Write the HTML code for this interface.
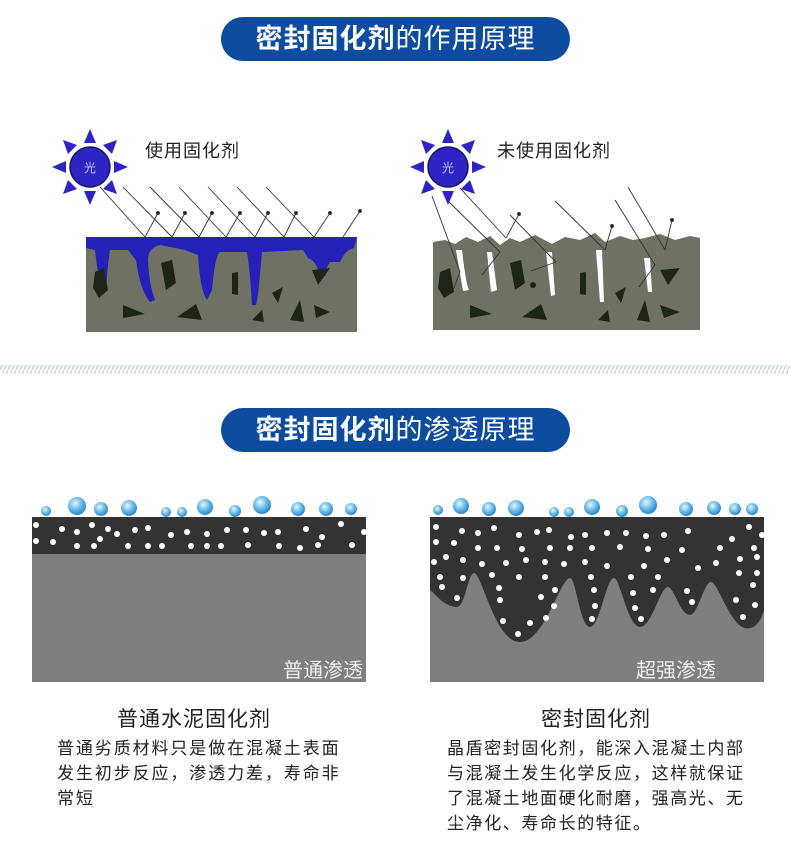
<!DOCTYPE html>
<html><head><meta charset="utf-8"><style>
html,body{margin:0;padding:0;background:#fff;}
body{width:790px;height:844px;position:relative;overflow:hidden;font-family:"Liberation Sans","Noto Sans CJK SC",sans-serif;}
.pill{position:absolute;left:221px;width:349px;height:44px;border-radius:22px;background:#0b4c9f;color:#fff;font-size:27px;line-height:44px;text-align:center;letter-spacing:1px;}
.pill b{font-weight:bold}
.t{position:absolute;color:#222;white-space:nowrap;}
.h{font-size:21px;}
.p{font-size:17px;letter-spacing:1.9px;line-height:25px;color:#222;}
svg{position:absolute;left:0;top:0}
</style></head><body>
<svg width="790" height="844" xmlns="http://www.w3.org/2000/svg">
<defs>
<pattern id="st" width="4" height="10" patternUnits="userSpaceOnUse"><rect width="4" height="10" fill="#fff"/><line x1="0" y1="10" x2="4" y2="0" stroke="#c9d2e6" stroke-width="1.4"/></pattern>
<g id="sun">
<polygon points="0,-38 -6,-24 6,-24" /><polygon points="0,38 -6,24 6,24"/>
<polygon points="-38,0 -24,-6 -24,6"/><polygon points="38,0 24,-6 24,6"/>
<polygon points="-27,-27 -22,-13 -13,-22"/><polygon points="27,-27 22,-13 13,-22"/>
<polygon points="-27,27 -22,13 -13,22"/><polygon points="27,27 22,13 13,22"/>
<circle r="20" stroke="#1a1460" stroke-width="1.5"/>
</g>
<radialGradient id="drop" cx="0.4" cy="0.35" r="0.7"><stop offset="0" stop-color="#e8f6ff"/><stop offset="0.5" stop-color="#6bbde8"/><stop offset="1" stop-color="#1f7fc4"/></radialGradient>
</defs>
<rect x="0" y="365" width="790" height="9" fill="url(#st)"/>

<!-- top left diagram -->
<rect x="86" y="237" width="271" height="95" fill="#6e7163"/>
<path d="M86,237 H357 L354,248 Q345,250 340,262 L330,262 Q325,270 326,275 L320,278 Q318,262 308,258 L303,250 L262,252 Q258,300 256,305 L252,305 Q250,270 247,252 L220,252 Q215,255 212,290 L207,300 Q200,290 198,255 L185,250 L170,247 L160,245 Q148,248 148,260 Q149,285 155,300 L150,302 Q140,290 136,260 L128,250 L110,250 Q107,270 106,290 L102,292 Q97,270 95,250 L86,248 Z" fill="#2420b8"/>
<g fill="#1d2418"><polygon points="95,272 104,268 108,290 99,298 93,288"/><polygon points="161,263 172,260 176,283 166,290"/><polygon points="123,305 145,314 123,318"/><polygon points="177,317 196,304 202,320"/><polygon points="232,273 238,272 238,295 232,294"/><polygon points="272,293 283,287 278,303"/><polygon points="290,320 300,300 304,322"/><polygon points="312,270 330,268 318,285"/><polygon points="314,305 330,312 316,318"/><polygon points="252,320 262,310 264,322"/></g>
<g stroke="#333" stroke-width="0.9" fill="#222">
<line x1="100" y1="187" x2="145" y2="237"/><line x1="145" y1="237" x2="158" y2="213"/>
<line x1="123" y1="187" x2="172" y2="237"/><line x1="172" y1="237" x2="185" y2="213"/>
<line x1="150" y1="187" x2="199" y2="237"/><line x1="199" y1="237" x2="212" y2="213"/>
<line x1="179" y1="187" x2="226" y2="237"/><line x1="226" y1="237" x2="240" y2="213"/>
<line x1="208" y1="187" x2="255" y2="237"/><line x1="255" y1="237" x2="268" y2="213"/>
<line x1="237" y1="187" x2="284" y2="237"/><line x1="284" y1="237" x2="296" y2="213"/>
<line x1="266" y1="187" x2="314" y2="237"/><line x1="314" y1="237" x2="330" y2="213"/>
<line x1="343" y1="237" x2="360" y2="211"/>
<circle cx="158" cy="213" r="1.5"/><circle cx="185" cy="213" r="1.5"/><circle cx="212" cy="213" r="1.5"/><circle cx="240" cy="213" r="1.5"/><circle cx="268" cy="213" r="1.5"/><circle cx="296" cy="213" r="1.5"/><circle cx="330" cy="213" r="1.5"/><circle cx="360" cy="211" r="1.5"/>
</g>
<g fill="#2e24c4" transform="translate(90,167)"><use href="#sun"/></g>
<text x="90" y="172" fill="#c8c4ff" font-size="12" text-anchor="middle" font-family="Noto Sans CJK SC">光</text>

<!-- top right diagram -->
<path d="M433,242 L445,240 L455,244 L466,237 L478,242 L490,236 L500,245 L510,238 L520,242 L535,235 L552,244 L565,237 L580,240 L595,233 L605,242 L620,236 L633,240 L645,238 L660,234 L675,240 L690,236 L700,238 V330 H433 Z" fill="#6e7163"/>
<g fill="#ffffff"><path d="M456,250 L462,250 Q466,285 469,290 L463,291 Z"/><path d="M487,252 L492,252 L497,290 L491,292 Z"/><path d="M546,252 L552,252 L555,295 L551,296 Z"/><path d="M596,250 L602,250 L604,302 L600,302 Z"/><path d="M644,258 L650,258 L652,292 L648,292 Z"/></g>
<g fill="#1d2418"><polygon points="440,272 450,268 454,292 444,298 438,288"/><polygon points="510,263 521,260 525,283 515,290"/><polygon points="470,305 492,314 470,318"/><polygon points="522,317 541,304 547,320"/><polygon points="580,273 586,272 586,295 580,294"/><polygon points="615,293 626,287 621,303"/><polygon points="637,320 645,300 650,322"/><polygon points="660,270 680,268 668,285"/><polygon points="660,305 680,312 664,318"/><polygon points="598,320 608,310 610,322"/><circle cx="533" cy="285" r="3"/></g>
<g stroke="#333" stroke-width="0.9" fill="#222">
<line x1="432" y1="196" x2="460" y2="272"/><line x1="460" y1="272" x2="453" y2="290"/>
<line x1="449" y1="202" x2="500" y2="252"/><line x1="500" y1="252" x2="482" y2="275"/>
<line x1="460" y1="188" x2="506" y2="238"/><line x1="506" y1="238" x2="519" y2="214"/>
<line x1="510" y1="215" x2="556" y2="262"/><line x1="556" y1="262" x2="531" y2="271"/>
<line x1="555" y1="201" x2="605" y2="250"/><line x1="605" y1="250" x2="612" y2="226"/>
<line x1="615" y1="200" x2="655" y2="265"/><line x1="655" y1="265" x2="639" y2="287"/>
<line x1="628" y1="187" x2="665" y2="250"/><line x1="665" y1="250" x2="672" y2="220"/>
<circle cx="519" cy="214" r="1.5"/><circle cx="612" cy="226" r="1.5"/><circle cx="672" cy="220" r="1.5"/>
</g>
<g fill="#2e24c4" transform="translate(448,167)"><use href="#sun"/></g>
<text x="448" y="172" fill="#c8c4ff" font-size="12" text-anchor="middle" font-family="Noto Sans CJK SC">光</text>

<text x="145" y="157" font-size="18" fill="#222" font-family="Noto Sans CJK SC" letter-spacing="1">使用固化剂</text>
<text x="497" y="157" font-size="18" fill="#222" font-family="Noto Sans CJK SC" letter-spacing="1">未使用固化剂</text>

<!-- bottom left -->
<rect x="32" y="517" width="334" height="37" fill="#333"/>
<rect x="32" y="554" width="334" height="128" fill="#7f7f7f"/>
<g fill="#fff">
<circle cx="36" cy="525" r="3"/><circle cx="62" cy="529" r="3"/><circle cx="77" cy="532" r="3"/><circle cx="92" cy="525" r="3"/><circle cx="108" cy="529" r="3"/><circle cx="117" cy="534" r="3"/><circle cx="135" cy="530" r="3"/><circle cx="148" cy="528" r="3"/><circle cx="171" cy="535" r="3"/><circle cx="187" cy="532" r="3"/><circle cx="207" cy="534" r="3"/><circle cx="227" cy="530" r="3"/><circle cx="246" cy="530" r="3"/><circle cx="264" cy="533" r="3"/><circle cx="278" cy="532" r="3"/><circle cx="306" cy="529" r="3"/><circle cx="341" cy="524" r="3"/><circle cx="364" cy="532" r="3"/><circle cx="322" cy="537" r="3"/>
<circle cx="36" cy="541" r="3"/><circle cx="53" cy="542" r="3"/><circle cx="77" cy="546" r="3"/><circle cx="94" cy="546" r="3"/><circle cx="100" cy="539" r="3"/><circle cx="128" cy="546" r="3"/><circle cx="148" cy="546" r="3"/><circle cx="162" cy="546" r="3"/><circle cx="191" cy="546" r="3"/><circle cx="207" cy="546" r="3"/><circle cx="221" cy="546" r="3"/><circle cx="248" cy="545" r="3"/><circle cx="279" cy="546" r="3"/><circle cx="300" cy="548" r="3"/><circle cx="318" cy="545" r="3"/><circle cx="352" cy="545" r="3"/>
</g>
<!-- bottom right -->
<rect x="430" y="517" width="334" height="165" fill="#7f7f7f"/>
<path d="M430,517 H764 V610 C760,625 752,630 745,628 C730,625 718,582 711,582 C704,582 698,615 690,615 C680,615 674,587 668,587 C660,587 652,627 640,627 C628,627 620,578 614,578 C606,578 600,627 590,627 C580,627 576,578 570,578 C560,578 545,642 520,642 C495,642 482,573 474,573 C468,573 465,607 457,607 C445,607 436,595 430,590 Z" fill="#333"/>
<g fill="#fff">
<circle cx="436" cy="527" r="3"/><circle cx="462" cy="531" r="3"/><circle cx="478" cy="533" r="3"/><circle cx="494" cy="528" r="3"/><circle cx="519" cy="535" r="3"/><circle cx="537" cy="532" r="3"/><circle cx="549" cy="530" r="3"/><circle cx="571" cy="537" r="3"/><circle cx="585" cy="535" r="3"/><circle cx="607" cy="533" r="3"/><circle cx="626" cy="533" r="3"/><circle cx="646" cy="536" r="3"/><circle cx="664" cy="535" r="3"/><circle cx="688" cy="531" r="3"/><circle cx="749" cy="527" r="3"/><circle cx="762" cy="535" r="3"/><circle cx="732" cy="539" r="3"/>
<circle cx="436" cy="542" r="3"/><circle cx="454" cy="543" r="3"/><circle cx="478" cy="548" r="3"/><circle cx="497" cy="548" r="3"/><circle cx="522" cy="549" r="3"/><circle cx="550" cy="548" r="3"/><circle cx="570" cy="548" r="3"/><circle cx="592" cy="548" r="3"/><circle cx="620" cy="547" r="3"/><circle cx="648" cy="549" r="3"/><circle cx="682" cy="550" r="3"/><circle cx="720" cy="548" r="3"/><circle cx="754" cy="548" r="3"/>
<circle cx="446" cy="557" r="3"/><circle cx="434" cy="562" r="3"/><circle cx="463" cy="560" r="3"/><circle cx="482" cy="564" r="3"/><circle cx="506" cy="563" r="3"/><circle cx="526" cy="560" r="3"/><circle cx="545" cy="562" r="3"/><circle cx="564" cy="564" r="3"/><circle cx="585" cy="562" r="3"/><circle cx="607" cy="566" r="3"/><circle cx="644" cy="566" r="3"/><circle cx="667" cy="560" r="3"/><circle cx="698" cy="568" r="3"/><circle cx="716" cy="563" r="3"/><circle cx="740" cy="559" r="3"/><circle cx="757" cy="557" r="3"/>
<circle cx="440" cy="577" r="3"/><circle cx="463" cy="578" r="3"/><circle cx="492" cy="575" r="3"/><circle cx="519" cy="577" r="3"/><circle cx="545" cy="577" r="3"/><circle cx="591" cy="577" r="3"/><circle cx="631" cy="577" r="3"/><circle cx="658" cy="577" r="3"/><circle cx="739" cy="573" r="3"/><circle cx="757" cy="573" r="3"/>
<circle cx="442" cy="587" r="3"/><circle cx="499" cy="588" r="3"/><circle cx="555" cy="590" r="3"/><circle cx="594" cy="590" r="3"/><circle cx="633" cy="593" r="3"/><circle cx="653" cy="590" r="3"/><circle cx="687" cy="591" r="3"/><circle cx="753" cy="585" r="3"/>
<circle cx="457" cy="598" r="3"/><circle cx="500" cy="600" r="3"/><circle cx="541" cy="597" r="3"/><circle cx="554" cy="606" r="3"/><circle cx="595" cy="606" r="3"/><circle cx="635" cy="608" r="3"/><circle cx="692" cy="602" r="3"/><circle cx="736" cy="600" r="3"/><circle cx="755" cy="605" r="3"/>
<circle cx="503" cy="621" r="3"/><circle cx="530" cy="623" r="3"/><circle cx="546" cy="618" r="3"/><circle cx="518" cy="634" r="3"/><circle cx="743" cy="617" r="3"/><circle cx="592" cy="619" r="3"/><circle cx="641" cy="619" r="3"/>
</g>
<!-- droplets -->
<g fill="url(#drop)">
<circle cx="46" cy="511" r="5"/><circle cx="77" cy="506" r="9"/><circle cx="101" cy="509" r="7"/><circle cx="129" cy="508" r="8"/><circle cx="166" cy="512" r="5"/><circle cx="182" cy="512" r="5"/><circle cx="205" cy="507" r="8"/><circle cx="235" cy="511" r="6"/><circle cx="262" cy="505" r="9"/><circle cx="298" cy="509" r="7"/><circle cx="326" cy="509" r="7"/><circle cx="351" cy="509" r="6"/>
<circle cx="438" cy="510" r="5"/><circle cx="461" cy="506" r="8"/><circle cx="489" cy="509" r="7"/><circle cx="516" cy="508" r="8"/><circle cx="554" cy="512" r="5"/><circle cx="569" cy="512" r="5"/><circle cx="592" cy="507" r="8"/><circle cx="622" cy="511" r="6"/><circle cx="648" cy="505" r="9"/><circle cx="686" cy="509" r="7"/><circle cx="714" cy="508" r="7"/><circle cx="735" cy="509" r="6"/><circle cx="752" cy="509" r="6"/>
</g>
<text x="283" y="677" font-size="20" fill="#eee" font-family="Noto Sans CJK SC">普通渗透</text>
<text x="636" y="677" font-size="20" fill="#eee" font-family="Noto Sans CJK SC">超强渗透</text>
</svg>

<div class="pill" style="top:17px"><b>密封固化剂</b>的作用原理</div>
<div class="pill" style="top:408px"><b>密封固化剂</b>的渗透原理</div>

<div class="t h" style="left:117px;top:703px;letter-spacing:1px">普通水泥固化剂</div>
<div class="t h" style="left:541px;top:703px;letter-spacing:1px">密封固化剂</div>
<div class="t p" style="left:57px;top:736px">普通劣质材料只是做在混凝土表面<br>发生初步反应，渗透力差，寿命非<br>常短</div>
<div class="t p" style="left:447px;top:736px;letter-spacing:1.6px">晶盾密封固化剂，能深入混凝土内部<br>与混凝土发生化学反应，这样就保证<br>了混凝土地面硬化耐磨，强高光、无<br>尘净化、寿命长的特征。</div>
</body></html>
